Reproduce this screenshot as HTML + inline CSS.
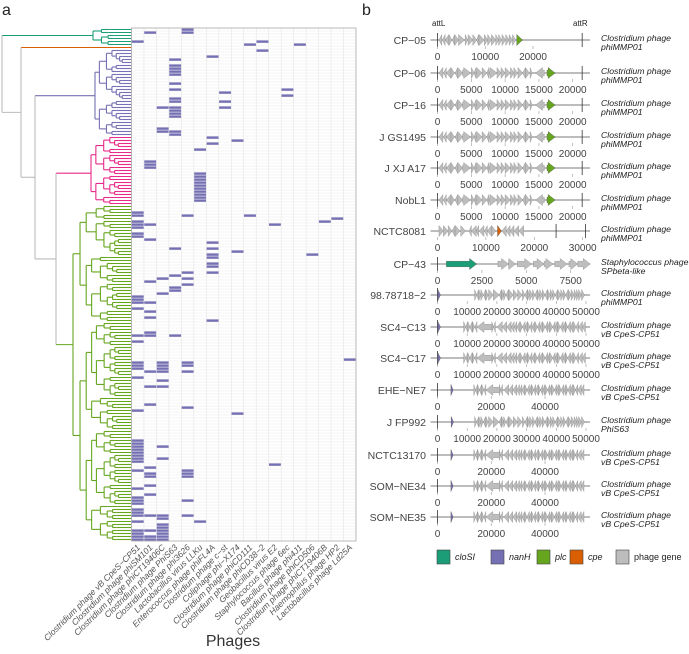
<!DOCTYPE html>
<html><head><meta charset="utf-8">
<style>
html,body{margin:0;padding:0;background:#fff;}
svg{display:block;font-family:"Liberation Sans",sans-serif;}
</style></head>
<body>
<svg id="fig" width="689" height="654" viewBox="0 0 689 654" xmlns="http://www.w3.org/2000/svg">
<text x="2" y="15" font-size="16" fill="#222">a</text>
<text x="362" y="15" font-size="16" fill="#222">b</text>
<g id="tree"></g>
<g id="heat"></g>
<g id="xlab"></g>
<text x="233" y="646" font-size="16" fill="#333" text-anchor="middle">Phages</text>
<g id="tracks"></g>
<g id="legend"></g>
</svg>
<script>
const phages = ["Clostridium phage vB CpeS\u2212CP51","Clostridium phage phiSM101","Clostridium phage phiCT19406C","Clostridium phage PhiS63","Clostridium phage phi3626","Lactobacillus virus LLKu","Enterococcus phage phiFL4A","Clostridium phage c\u2212st","Coliphage phi\u2212X174","Clostridium phage phiCD111","Clostridium phage phiCD38\u22122","Geobacillus virus E2","Staphylococcus phage 6ec","Bacillus phage phi4J1","Clostridium phage phiCD506","Clostridium phage phiCT19406B","Haemophilus phage HP2","Lactobacillus phage Ld25A"];
const nRows = 171;
// [row, column] of present hits
const hits = [[1,1],[0,4],[1,4],[4,0],[5,9],[4,10],[7,10],[5,13],[9,6],
[10,3],[12,3],[13,3],[14,3],[15,3],[18,3],[20,3],[23,3],[24,3],[26,3],[27,3],[28,3],[29,3],[34,3],[35,3],
[21,7],[24,7],[26,7],[20,12],[22,12],[26,2],[33,2],[34,2],[36,6],[38,6],[37,8],[40,5],[44,1],[45,1],[46,1],
[48,5],[49,5],[50,5],[51,5],[52,5],[53,5],[54,5],[55,5],[56,5],[57,5],
[61,0],[62,0],[62,4],[62,9],[63,16],[64,15],[65,11],[64,0],[65,0],[66,0],[65,1],[68,0],[69,0],[70,1],
[71,6],[73,3],[73,6],[74,8],[75,14],[75,6],[76,6],[78,6],[79,6],[81,6],[81,4],[82,3],[83,2],[83,4],[84,1],[85,4],[86,3],[87,3],[88,2],
[89,0],[90,0],[91,0],[91,1],[93,0],[94,1],[96,1],[97,6],
[101,1],[102,1],[102,0],[102,3],[104,0],[110,17],
[111,0],[112,0],[113,0],[111,2],[112,2],[113,2],[114,2],[114,1],[111,4],[112,4],[114,4],
[116,0],[117,2],[119,1],[119,2],[125,1],[127,0],[126,4],[128,8],
[137,0],[138,0],[139,0],[140,0],[141,0],[142,0],[143,0],[144,0],[139,2],[143,2],[145,11],
[146,1],[147,0],[148,1],[149,1],[147,4],[148,4],[149,4],[153,0],[152,1],[155,1],
[156,0],[157,0],[158,0],[157,4],[160,0],[161,0],[162,0],[162,1],[162,2],[163,2],[162,4],[164,0],[164,5],
[165,2],[166,2],[167,2],[168,2],[169,2],[170,2],[167,0],[168,0],[169,0],[170,0],[167,1],[169,1],[170,1]];

const NS="http://www.w3.org/2000/svg";
function mk(tag,attrs,parent){const e=document.createElementNS(NS,tag);for(const k in attrs)e.setAttribute(k,attrs[k]);parent.appendChild(e);return e;}
const HX0=131.5,HX1=356,HY0=28,HY1=541;
const cw=(HX1-HX0)/phages.length, rh=(HY1-HY0)/nRows;
const xCol=c=>HX0+c*cw, yRow=r=>HY0+r*rh;

const heat=document.getElementById('heat');
for(let r=0;r<=nRows;r++){const l=mk('line',{x1:HX0,x2:HX1,y1:yRow(r),y2:yRow(r),stroke:'#ececec','stroke-width':0.5},heat);

}
for(let c=0;c<=phages.length;c++){const l=mk('line',{x1:xCol(c),x2:xCol(c),y1:HY0,y2:HY1,stroke:'#e4e4e4','stroke-width':0.6},heat);

}
hits.forEach(([r,c])=>{const e=mk('rect',{x:xCol(c)+0.3,y:yRow(r)+0.4,width:cw-0.6,height:rh-0.6,fill:'#7570b3'},heat);

});
const bd=mk('rect',{x:HX0,y:HY0,width:HX1-HX0,height:HY1-HY0,fill:'none',stroke:'#aaa','stroke-width':0.8},heat);



const xl=document.getElementById('xlab');
phages.forEach((p,i)=>{const cx=xCol(i)+cw/2+3;const t=mk('text',{x:cx,y:548,'font-size':8.6,'font-style':'italic',fill:'#555','text-anchor':'end',transform:`rotate(-45 ${cx} 548)`},xl);t.textContent=p;

});

const tree=document.getElementById('tree');
const rowC=r=>yRow(r)+rh/2;
function ln(x1,y1,x2,y2,col){const l=mk('line',{x1,y1,x2,y2,stroke:col,'stroke-width':1.1},tree);

}
function sub(r0,r1,x,col,depth){
  if(r0===r1){ln(x,rowC(r0),HX0,rowC(r0),col);return rowC(r0);}
  const n=r1-r0+1;
  const f=[0.45,0.3,0.6,0.5,0.7,0.35][(depth+r0)%6];
  let s=r0+Math.max(0,Math.min(n-2,Math.floor(n*f)-1));
  const step=Math.max(1.5,(HX0-x)*(n>20?0.12:0.22));
  const xc=x+step;
  const y1=sub(r0,s,xc,col,depth+1), y2=sub(s+1,r1,xc,col,depth+1);
  ln(x,y1,x,y2,col);ln(x,y1,xc,y1,col);ln(x,y2,xc,y2,col);
  return (y1+y2)/2;
}
const yT=sub(0,5,93,'#1b9e77',0);
const yO=rowC(6); ln(21,yO,HX0,yO,'#d95f02');
const yP=sub(7,35,95,'#7570b3',1);
const yK=sub(36,58,91,'#e7298a',2);
const yG=sub(59,170,73,'#66a61e',0);
ln(2,yT,93,yT,'#1b9e77');
ln(35,yP,95,yP,'#7570b3');
ln(56,yK,91,yK,'#e7298a');
const g1=yK*0.5+yG*0.5;
ln(56,yK,56,yG,'#bbb');ln(56,yG,73,yG,'#66a61e');
const n3=(yP+g1)/2; ln(35,yP,35,g1,'#bbb');ln(35,g1,56,g1,'#bbb');
const n2=(yO+n3)/2; ln(21,yO,21,n3,'#bbb');ln(21,n3,35,n3,'#bbb');
ln(2,yT,2,n2,'#bbb');ln(2,n2,21,n2,'#bbb');

const mmp=[[0.2,0.8,-1],[0.9,1.3,-1],[1.3,2.0,-1],[2.0,2.5,1],[2.6,3.0,-1],[3.0,3.7,1],[3.7,4.9,1],[5.0,5.4,1],[5.4,5.7,-1],[5.8,6.6,1],[6.6,7.3,1],[7.3,7.6,-1],[7.7,8.8,1],[8.8,9.4,1],[9.4,10.0,1],[10.0,10.8,1],[10.8,11.3,1],[11.3,11.8,1],[11.9,12.6,1],[12.6,13.0,-1],[13.0,13.6,1],[13.7,14.0,1],[14.5,15.8,-1]];
const mmp5=[[0.3,0.9,-1],[1.0,1.6,-1],[1.6,2.4,-1],[2.4,3.0,1],[3.1,3.6,-1],[3.6,4.4,1],[4.4,5.7,1],[5.8,6.3,1],[6.4,7.4,1],[7.4,8.2,1],[8.2,8.6,-1],[8.7,9.8,1],[9.8,10.5,1],[10.5,11.3,1],[11.3,12.2,1],[12.2,12.8,1],[12.8,13.4,1],[13.5,14.3,1],[14.3,15.0,1],[15.0,15.7,1],[15.7,16.4,1]];
const c8081=[[0.3,1.2,1],[1.2,2.2,1],[2.2,3.0,1],[3.0,3.6,-1],[3.7,4.6,1],[4.8,5.8,1],[6.5,7.0,-1],[7.0,8.0,-1],[8.0,8.5,-1],[8.6,9.6,-1],[9.7,10.3,-1],[10.3,11.2,-1],[11.2,12.0,1],[13.3,14.2,-1],[14.2,15.0,-1],[15.0,15.8,-1],[15.8,16.8,-1],[16.8,17.8,-1]];
const sp43=[[3.4,4.0,1],[4.0,4.4,1],[4.5,5.3,1],[5.4,6.0,1],[6.0,6.5,1],[6.6,7.3,1],[7.4,7.9,1],[7.9,8.6,1]];
const dense=[[13.5,14.2,1],[14.2,14.9,-1],[14.9,15.6,1],[15.6,16.4,-1],[16.5,17.2,1],[17.3,18.0,-1],[18.0,23.0,-1],[23.0,23.5,1],[23.5,24.2,-1],[24.7,26.5,-1],[26.5,28.0,-1],[28.0,29.5,-1],[29.5,30.5,-1],[30.6,31.4,-1],[31.4,32.5,-1],[32.5,33.3,1],[33.3,34.2,-1],[34.2,35.0,-1],[35.0,35.8,1],[35.8,36.5,-1],[36.5,37.5,-1],[37.5,38.3,1],[38.3,39.2,-1],[39.2,40.0,-1],[40.0,41.0,1],[41.0,41.8,-1],[41.8,42.5,-1],[42.5,43.5,1],[43.5,44.3,-1],[44.3,45.0,-1],[45.2,46.0,1],[46.0,47.0,-1],[47.0,47.8,-1],[47.8,48.5,1],[48.5,49.5,-1],[49.5,50.3,-1],[50.5,51.3,1],[51.3,52.2,-1],[52.2,53.5,-1],[53.5,54.5,-1]];
const denseSC=[[8.8,9.5,1],[9.5,10.2,-1],[10.2,10.9,1],[10.9,11.7,-1],[11.8,12.5,1],[12.6,13.3,-1],[13.3,18.3,-1],[18.3,18.8,1],[18.8,19.5,-1],[20.0,21.8,-1],[21.8,23.3,-1],[23.3,24.8,-1],[24.8,25.8,-1],[25.9,26.7,-1],[26.7,27.8,-1],[27.8,28.6,1],[28.6,29.5,-1],[29.5,30.3,-1],[30.3,31.1,1],[31.1,31.8,-1],[31.8,32.8,-1],[32.8,33.6,1],[33.6,34.5,-1],[34.5,35.3,-1],[35.3,36.3,1],[36.3,37.1,-1],[37.1,37.8,-1],[37.8,38.8,1],[38.8,39.6,-1],[39.6,40.3,-1],[40.5,41.3,1],[41.3,42.3,-1],[42.3,43.1,-1],[43.1,43.8,1],[43.8,44.8,-1],[44.8,45.6,-1],[45.8,46.6,1],[46.6,47.5,-1],[47.5,48.8,-1],[48.8,49.8,-1]];
const denseF=[[12.5,13.2,1],[13.2,13.9,-1],[13.9,14.6,1],[14.6,15.4,1],[15.5,16.2,-1],[16.3,17.0,1],[17.2,18.8,1],[18.8,20.8,1],[20.8,21.5,-1],[21.6,22.3,1],[22.3,23.0,1],[23.1,23.9,-1],[24.0,25.5,1],[25.5,27.0,1],[27.0,28.5,1],[28.6,29.4,1],[29.4,30.3,-1],[30.3,31.0,1],[31.0,32.0,1],[32.0,32.8,1],[32.8,33.6,-1],[33.6,34.4,1],[34.4,35.3,1],[35.3,36.2,1],[36.2,37.0,-1],[37.0,38.0,1],[38.0,38.8,1],[38.8,39.6,1],[39.6,40.5,-1],[40.5,41.5,1],[41.5,42.3,1],[42.3,43.2,1],[43.2,44.0,-1],[44.0,45.0,1],[45.0,46.0,1],[46.0,46.8,1],[46.8,47.5,1],[47.5,48.5,1],[48.5,49.5,1]];
const trackNames=["CP\u221205","CP\u221206","CP\u221216","J GS1495","J XJ A17","NobL1","NCTC8081","CP\u221243","98.78718\u22122","SC4\u2212C13","SC4\u2212C17","EHE\u2212NE7","J FP992","NCTC13170","SOM\u2212NE34","SOM\u2212NE35"];
const trackY=[40,73,105,137,168,200,231,264,295,327,358,390,422,455,486,517];
const trackScale=[20000,20000,20000,20000,20000,20000,30000,7500,50000,50000,50000,40000,50000,40000,40000,40000];
const trackTicks=[[0,10000,20000],[0,5000,10000,15000,20000],[0,5000,10000,15000,20000],[0,5000,10000,15000,20000],[0,5000,10000,15000,20000],[0,5000,10000,15000,20000],[0,10000,20000,30000],[0,2500,5000,7500],[0,10000,20000,30000,40000,50000],[0,10000,20000,30000,40000,50000],[0,10000,20000,30000,40000,50000],[0,20000,40000],[0,10000,20000,30000,40000,50000],[0,20000,40000],[0,20000,40000],[0,20000,40000]];
const trackGenes=[mmp5,mmp,mmp,mmp,mmp,mmp,c8081,sp43,denseF,denseSC,denseSC,dense,denseF,dense,dense,dense];
const trackSpecial=[[[16.6,17.8,1,'plc']],[[16.2,17.4,1,'plc']],[[16.2,17.4,1,'plc']],[[16.2,17.4,1,'plc']],[[16.2,17.4,1,'plc']],[[16.2,17.4,1,'plc']],[[12.4,13.2,1,'cpe']],[[0.5,2.2,1,'cloSI']],[[0.1,1.0,1,'nanH']],[[0.1,1.0,1,'nanH']],[[0.1,1.0,1,'nanH']],[[5.0,5.8,1,'nanH']],[[4.6,5.4,1,'nanH']],[[5.0,5.8,1,'nanH']],[[5.0,5.8,1,'nanH']],[[5.0,5.8,1,'nanH']]];
const trackMarks=[[0,30.3],[0,21.4],[0,21.4],[0,21.4],[0,21.4],[0,21.4],[24.5,30.6],[0],[0],[0],[0],[0],[0],[0],[0],[0]];
const hostLine1=["Clostridium phage","Clostridium phage","Clostridium phage","Clostridium phage","Clostridium phage","Clostridium phage","Clostridium phage","Staphylococcus phage","Clostridium phage","Clostridium phage","Clostridium phage","Clostridium phage","Clostridium phage","Clostridium phage","Clostridium phage","Clostridium phage"];
const hostLine2=["phiMMP01","phiMMP01","phiMMP01","phiMMP01","phiMMP01","phiMMP01","phiMMP01","SPbeta-like","phiMMP01","vB CpeS-CP51","vB CpeS-CP51","vB CpeS-CP51","PhiS63","vB CpeS-CP51","vB CpeS-CP51","vB CpeS-CP51"];
const colors={cloSI:'#1b9e77',nanH:'#7570b3',plc:'#66a61e',cpe:'#d95f02',gene:'#bdbdbd'};
const TX0=437.5;
const tracks=document.getElementById('tracks');
function arrow(g,x1,x2,y,strand,fill){
  const w=Math.abs(x2-x1),hl=Math.min(w,7),bh=2.8,hh=5.5;let pts;
  if(strand>0){pts=[[x1,y-bh],[x2-hl,y-bh],[x2-hl,y-hh],[x2,y],[x2-hl,y+hh],[x2-hl,y+bh],[x1,y+bh]];}
  else{pts=[[x2,y-bh],[x1+hl,y-bh],[x1+hl,y-hh],[x1,y],[x1+hl,y+hh],[x1+hl,y+bh],[x2,y+bh]];}
  return mk('polygon',{points:pts.map(p=>p.join(',')).join(' '),fill,stroke:fill==='#bdbdbd'?'#909090':'#555','stroke-width':0.4},g);
}
trackNames.forEach((nm,i)=>{
  const y=trackY[i];
  const k=(trackTicks[i][trackTicks[i].length-1]===50000?148.5:(trackScale[i]===40000?107.5:(trackScale[i]===7500?133.2:(trackScale[i]===30000?145.2:(i===0?95.5:135.2)))))/trackScale[i];
  const X=bp=>TX0+bp*k;
  const g=mk('g',{},tracks);
  
  
  const t=mk('text',{x:426,y:y+4,'font-size':10.5,fill:'#444','text-anchor':'end'},g);t.textContent=nm;
  
  
  const bb=mk('line',{x1:TX0-7,x2:590,y1:y,y2:y,stroke:'#bdbdbd','stroke-width':2},g);
  
  
  trackMarks[i].forEach(m=>{const l=mk('line',{x1:X(m*1000),x2:X(m*1000),y1:y-7,y2:y+7,stroke:'#333','stroke-width':0.8},g);
    
    });
  trackGenes[i].forEach(([a,b,s])=>{const p=arrow(g,X(a*1000),X(b*1000),y,s,colors.gene);
    
    });
  trackSpecial[i].forEach(([a,b,s,ty])=>{const p=arrow(g,X(a*1000),X(b*1000),y,s,colors[ty]);
    
    });
  trackTicks[i].forEach(v=>{const tt=mk('text',{x:X(v),y:y+20,'font-size':10,fill:'#444','text-anchor':'middle'},g);tt.textContent=String(v);
    
    
    const tk=mk('line',{x1:X(v),x2:X(v),y1:y+6,y2:y+9,stroke:'#999','stroke-width':0.6},g);
    
    });
  const h1=mk('text',{x:601,y:y+1,'font-size':8.7,'font-style':'italic',fill:'#222'},g);h1.textContent=hostLine1[i];
  
  
  const h2=mk('text',{x:601,y:y+10,'font-size':8.7,'font-style':'italic',fill:'#222'},g);h2.textContent=hostLine2[i];
  
  
});
const a1=mk('text',{x:432,y:26,'font-size':8,fill:'#222'},tracks);a1.textContent='attL';


const a2=mk('text',{x:573,y:26,'font-size':8,fill:'#222'},tracks);a2.textContent='attR';



const legKeys=['cloSI','nanH','plc','cpe','gene'];
const legLabels=['cloSI','nanH','plc','cpe','phage gene'];
const legX=[437,491,537,570,616];
const lg=document.getElementById('legend');
legKeys.forEach((k,i)=>{
  const r=mk('rect',{x:legX[i],y:550,width:13,height:14,fill:colors[k],stroke:'#444','stroke-width':0.6},lg);
  
  
  const t=mk('text',{x:legX[i]+18,y:560,'font-size':9,'font-style':k==='gene'?'normal':'italic',fill:'#222'},lg);t.textContent=legLabels[i];
  
  
});
</script>
</body></html>
